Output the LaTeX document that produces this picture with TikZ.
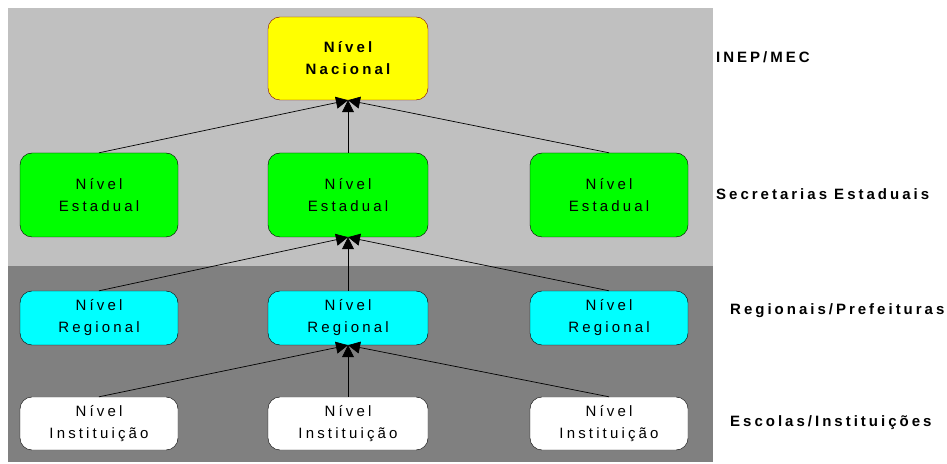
\documentclass[tikz,border=0pt]{standalone}
\usepackage{fontspec}
\usepackage{xcolor}
\usetikzlibrary{arrows.meta}
\setmainfont{Liberation Sans}[LetterSpace=21]
\newfontfamily\fonterotulo{Liberation Sans}[LetterSpace=20]
\definecolor{cinzaclaro}{HTML}{C0C0C0}
\definecolor{cinzaescuro}{HTML}{808080}
\definecolor{bordanac}{HTML}{800000}
\definecolor{amarelo}{HTML}{FFFF00}
\definecolor{verde}{HTML}{00FF00}
\definecolor{ciano}{HTML}{00FFFF}

\begin{document}
\begin{tikzpicture}[x=1pt,y=1pt,
  nivel/.style={draw=black,rounded corners=12pt,minimum width=158pt,align=center,
    font=\fontsize{15}{22}\selectfont,inner sep=0pt},
  seta/.style={draw=black,line width=0.7pt,-{Triangle[length=12pt,width=12pt]}},
  camada/.style={anchor=base west,inner sep=0pt,font=\fontsize{15}{18}\fonterotulo\bfseries}]
\useasboundingbox (0,0) rectangle (947,463);
\fill[cinzaclaro] (8,197) rectangle (713,455);
\fill[cinzaescuro] (8,1) rectangle (713,197);

\node[nivel,fill=amarelo,draw=bordanac,minimum width=160pt,minimum height=83pt,
  font=\fontsize{15}{22}\selectfont\bfseries] (nac) at (348,404.5) {Nível\\Nacional};

\node[nivel,fill=verde,minimum height=84pt] (est1) at (99,268) {Nível\\Estadual};
\node[nivel,fill=verde,minimum height=84pt,minimum width=160pt] (est2) at (348,268) {Nível\\Estadual};
\node[nivel,fill=verde,minimum height=84pt] (est3) at (609,268) {Nível\\Estadual};

\node[nivel,fill=ciano,minimum height=54pt] (reg1) at (99,145) {Nível\\Regional};
\node[nivel,fill=ciano,minimum height=54pt,minimum width=160pt] (reg2) at (348,145) {Nível\\Regional};
\node[nivel,fill=ciano,minimum height=54pt] (reg3) at (609,145) {Nível\\Regional};

\node[nivel,fill=white,minimum height=53pt] (ins1) at (99,39.5) {Nível\\Instituição};
\node[nivel,fill=white,minimum height=53pt,minimum width=160pt] (ins2) at (348,39.5) {Nível\\Instituição};
\node[nivel,fill=white,minimum height=53pt] (ins3) at (609,39.5) {Nível\\Instituição};

\foreach \a/\b in {est1/nac,est3/nac,est2/nac,reg1/est2,reg3/est2,reg2/est2,ins1/reg2,ins3/reg2,ins2/reg2}
  \draw[seta] (\a.north) -- (\b.south);

\node[camada] (inep) at (716,400) {INEP/MEC};
\node[camada] (sec) at (716,263) {Secretarias Estaduais};
\node[camada] (pref) at (730,148) {Regionais/Prefeituras};
\node[camada] (esc) at (730,37) {Escolas/Instituições};
\end{tikzpicture}
\end{document}
